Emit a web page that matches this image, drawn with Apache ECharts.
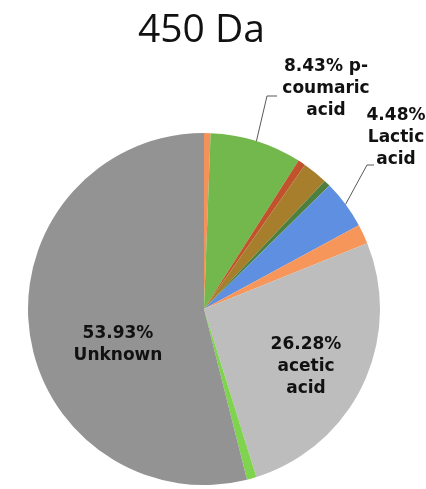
<!DOCTYPE html>
<html><head><meta charset="utf-8">
<script src="https://cdn.jsdelivr.net/npm/echarts@6/dist/echarts.min.js"></script>
<style>html,body{margin:0;padding:0;background:#fff}#c{width:426px;height:489px}</style>
</head><body><div id="c"></div>
<script>
const titleText = '450 Da';
const sliceNames = ['Minor 1', 'p-coumaric acid', 'Minor 2', 'Minor 3', 'Minor 4', 'Lactic acid', 'Minor 5', 'acetic acid', 'Minor 6', 'Unknown'];
const sliceValues = [0.6, 8.43, 0.7, 2.3, 0.6, 4.48, 1.8, 26.28, 0.88, 53.93];
const sliceLabels = ['', '8.43% p-\ncoumaric\nacid', '', '', '', '4.48%\nLactic\nacid', '', '26.28%\nacetic\nacid', '', '53.93%\nUnknown'];
const sliceColors = ['#f4925a', '#72b84c', '#c0532b', '#a67e2c', '#4f7f3c', '#5e8fe0', '#f6965a', '#bdbdbd', '#7fd34e', '#939393'];

// label placement (text annotations only)
const labelPlacement = {
  1: { x: 326, y: 89, elbow: [267, 96], end: [277, 96] },
  5: { x: 396, y: 138, elbow: [367, 165], end: [374, 165] },
  7: { x: 306, y: 367 },
  9: { x: 118, y: 345 }
};

const data = sliceNames.map((n, i) => {
  const hasLabel = sliceLabels[i] !== '';
  const outside = labelPlacement[i] && labelPlacement[i].elbow;
  return {
    name: n,
    value: sliceValues[i],
    itemStyle: { color: sliceColors[i] },
    label: { show: hasLabel, position: outside ? 'outside' : 'inside', formatter: () => sliceLabels[i] },
    labelLine: { show: !!outside }
  };
});

const chart = echarts.init(document.getElementById('c'), null, { renderer: 'canvas' });
chart.setOption({
  animation: false,
  title: {
    text: titleText, left: 133, top: 6,
    textStyle: { fontFamily: 'Open Sans', fontSize: 39, fontWeight: 'normal', color: '#111' }
  },
  series: [{
    type: 'pie',
    center: [204, 309],
    radius: 176,
    startAngle: 90,
    clockwise: true,
    avoidLabelOverlap: false,
    silent: true,
    emphasis: { disabled: true },
    label: {
      fontFamily: 'DejaVu Sans', fontWeight: 'bold', fontSize: 17,
      lineHeight: 22, color: '#111', align: 'center'
    },
    labelLine: { length: 10, length2: 10, lineStyle: { color: '#595959', width: 1 } },
    labelLayout: function (params) {
      const p = labelPlacement[params.dataIndex];
      if (!p) return {};
      const out = { x: p.x, y: p.y, align: 'center', verticalAlign: 'middle' };
      if (p.elbow && params.labelLinePoints) {
        out.labelLinePoints = [params.labelLinePoints[0], p.elbow, p.end];
      }
      return out;
    },
    data: data
  }]
});
</script>
</body></html>
